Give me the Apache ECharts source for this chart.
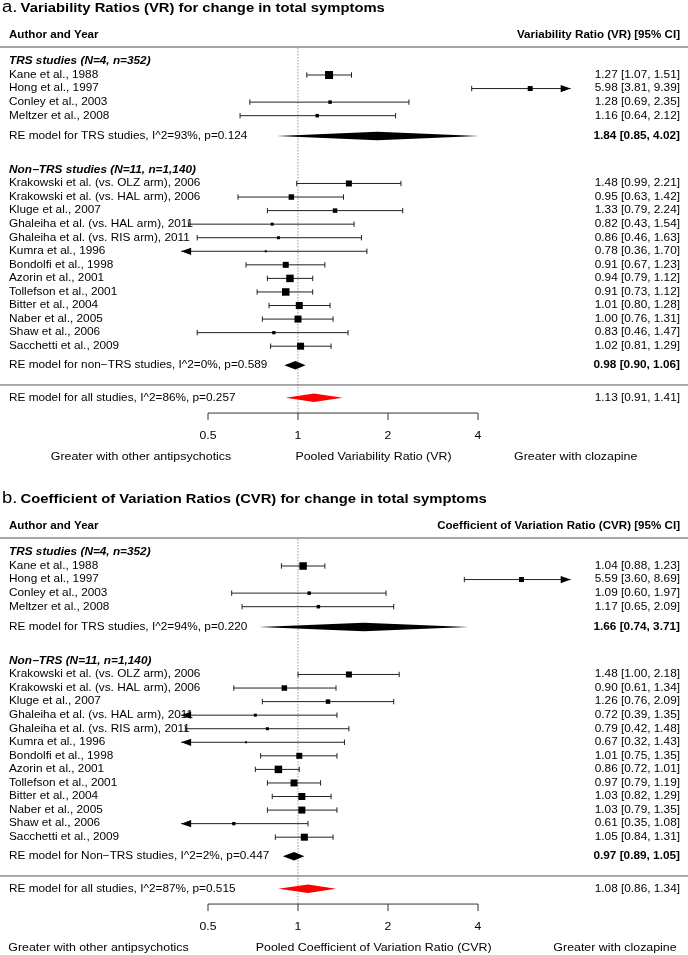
<!DOCTYPE html>
<html><head><meta charset="utf-8">
<script src="https://cdn.jsdelivr.net/npm/echarts@6/dist/echarts.min.js"></script>
<style>html,body{margin:0;padding:0;background:#fff}#c{width:688px;height:955px}</style>
</head><body><div id="c"></div>
<script>
// ---------------- DATA ----------------
const studyNames = [
  "Kane et al., 1988", "Hong et al., 1997", "Conley et al., 2003", "Meltzer et al., 2008",
  "Krakowski et al. (vs. OLZ arm), 2006", "Krakowski et al. (vs. HAL arm), 2006", "Kluge et al., 2007",
  "Ghaleiha et al. (vs. HAL arm), 2011", "Ghaleiha et al. (vs. RIS arm), 2011", "Kumra et al., 1996",
  "Bondolfi et al., 1998", "Azorin et al., 2001", "Tollefson et al., 2001", "Bitter et al., 2004",
  "Naber et al., 2005", "Shaw et al., 2006", "Sacchetti et al., 2009"
];
const studyRows = [0, 1, 2, 3, 8, 9, 10, 11, 12, 13, 14, 15, 16, 17, 18, 19, 20];

// Panel a: Variability Ratio (VR)
const vrEst   = [1.27, 5.98, 1.28, 1.16, 1.48, 0.95, 1.33, 0.82, 0.86, 0.78, 0.91, 0.94, 0.91, 1.01, 1.00, 0.83, 1.02];
const vrLower = [1.07, 3.81, 0.69, 0.64, 0.99, 0.63, 0.79, 0.43, 0.46, 0.36, 0.67, 0.79, 0.73, 0.80, 0.76, 0.46, 0.81];
const vrUpper = [1.51, 9.39, 2.35, 2.12, 2.21, 1.42, 2.24, 1.54, 1.63, 1.70, 1.23, 1.12, 1.12, 1.28, 1.31, 1.47, 1.29];
const vrWeight = [8, 5, 3.5, 3.5, 6, 5.5, 4.5, 3, 3, 2, 6, 7.5, 7.5, 7, 7, 3.3, 7];
const vrSummaryLabels = [
  "RE model for TRS studies, I^2=93%, p=0.124",
  "RE model for non\u2212TRS studies, I^2=0%, p=0.589",
  "RE model for all studies, I^2=86%, p=0.257"
];
const vrSummaryEst   = [1.84, 0.98, 1.13];
const vrSummaryLower = [0.85, 0.90, 0.91];
const vrSummaryUpper = [4.02, 1.06, 1.41];
const vrGroupLabels = ["TRS studies (N=4, n=352)", "Non\u2212TRS studies (N=11, n=1,140)"];

// Panel b: Coefficient of Variation Ratio (CVR)
const cvrEst   = [1.04, 5.59, 1.09, 1.17, 1.48, 0.90, 1.26, 0.72, 0.79, 0.67, 1.01, 0.86, 0.97, 1.03, 1.03, 0.61, 1.05];
const cvrLower = [0.88, 3.60, 0.60, 0.65, 1.00, 0.61, 0.76, 0.39, 0.42, 0.32, 0.75, 0.72, 0.79, 0.82, 0.79, 0.35, 0.84];
const cvrUpper = [1.23, 8.69, 1.97, 2.09, 2.18, 1.34, 2.09, 1.35, 1.48, 1.43, 1.35, 1.01, 1.19, 1.29, 1.35, 1.08, 1.31];
const cvrWeight = [7.5, 5, 3.5, 3.5, 6, 5.5, 4.5, 3, 3, 2, 6, 7.5, 7, 7, 7, 3.3, 7];
const cvrSummaryLabels = [
  "RE model for TRS studies, I^2=94%, p=0.220",
  "RE model for Non\u2212TRS studies, I^2=2%, p=0.447",
  "RE model for all studies, I^2=87%, p=0.515"
];
const cvrSummaryEst   = [1.66, 0.97, 1.08];
const cvrSummaryLower = [0.74, 0.89, 0.86];
const cvrSummaryUpper = [3.71, 1.05, 1.34];
const cvrGroupLabels = ["TRS studies (N=4, n=352)", "Non\u2212TRS (N=11, n=1,140)"];

const summaryRows = [4.5, 21.4, 23.8];
const groupRows = [-1, 7];
const tickValues = [0.5, 1, 2, 4];

const panelTitles = [
  ["a.", "Variability Ratios (VR) for change in total symptoms"],
  ["b.", "Coefficient of Variation Ratios (CVR) for change in total symptoms"]
];
const leftHeader = "Author and Year";
const rightHeaders = ["Variability Ratio (VR) [95% CI]", "Coefficient of Variation Ratio (CVR) [95% CI]"];
const footerTexts = [
  ["Greater with other antipsychotics", "Pooled Variability Ratio (VR)", "Greater with clozapine"],
  ["Greater with other antipsychotics", "Pooled Coefficient of Variation Ratio (CVR)", "Greater with clozapine"]
];

// ---------------- LAYOUT ----------------
const W = 688;
const ROW0_Y = 75, ROW_PX = 13.56, PANEL_H = [491, 464];
const X_ONE = 298, X_PER_DOUBLING = 90;
const X_MIN = Math.pow(2, -X_ONE / X_PER_DOUBLING);
const X_MAX = Math.pow(2, (W - X_ONE) / X_PER_DOUBLING);
const CLIP_LO = Math.exp(-0.9), CLIP_HI = Math.exp(2.1);
const LEFT_X = 9, RIGHT_X = 680;
const FOOTER_CX = [[141, 373.5, 575.7], [98.5, 373.7, 615]];
const ROW_TITLE = -4.94, ROW_HEADER = -2.95, ROW_HLINE = -2.06, ROW_SEP = 22.86,
      ROW_AXIS = 24.93, ROW_TICKLAB = 26.6, ROW_FOOT = 28.17;
const FONT = "'Liberation Sans', Arial, Helvetica, sans-serif";
const SY = 0.87;
const FS = 11.8;

function txt(x, y, text, o) {
  o = o || {};
  return {
    type: 'text', x: x, y: y, scaleY: SY, silent: true,
    style: {
      text: text, fill: o.fill || '#000', fontSize: o.size || FS, fontFamily: FONT,
      fontWeight: o.weight || 'normal', fontStyle: o.style || 'normal',
      align: o.align || 'left', verticalAlign: 'middle', rich: o.rich
    }
  };
}
function fmt(e, l, u) { return e.toFixed(2) + ' [' + l.toFixed(2) + ', ' + u.toFixed(2) + ']'; }

function studySeries(p, est, lo, up, wt) {
  return {
    type: 'custom', xAxisIndex: p, yAxisIndex: p, clip: false, silent: true, animation: false,
    data: est.map((e, i) => [e, lo[i], up[i], studyRows[i], wt[i], i]),
    encode: { x: 0, y: 3 },
    renderItem: function (params, api) {
      const e = api.value(0), lb = api.value(1), ub = api.value(2), row = api.value(3), w = api.value(4), idx = api.value(5);
      const y = api.coord([1, row])[1];
      const l = Math.max(lb, CLIP_LO), h = Math.min(ub, CLIP_HI);
      const xl = api.coord([l, row])[0], xh = api.coord([h, row])[0], xe = api.coord([e, row])[0];
      const ch = [];
      const st = { stroke: '#222', lineWidth: 1 };
      ch.push({ type: 'line', shape: { x1: xl, y1: y, x2: xh, y2: y }, style: st });
      if (lb >= CLIP_LO) ch.push({ type: 'line', shape: { x1: xl, y1: y - 2.7, x2: xl, y2: y + 2.7 }, style: st });
      else ch.push({ type: 'polygon', shape: { points: [[xl, y], [xl + 10, y - 3.6], [xl + 10, y + 3.6]] }, style: { fill: '#000' } });
      if (ub <= CLIP_HI) ch.push({ type: 'line', shape: { x1: xh, y1: y - 2.7, x2: xh, y2: y + 2.7 }, style: st });
      else ch.push({ type: 'polygon', shape: { points: [[xh, y], [xh - 10, y - 3.6], [xh - 10, y + 3.6]] }, style: { fill: '#000' } });
      ch.push({ type: 'rect', shape: { x: xe - w / 2, y: y - w / 2, width: w, height: w }, style: { fill: '#000' } });
      ch.push(txt(LEFT_X, y, studyNames[idx]));
      ch.push(txt(RIGHT_X, y, fmt(e, lb, ub), { align: 'right' }));
      return { type: 'group', children: ch };
    }
  };
}

function summarySeries(p, labels, est, lo, up) {
  return {
    type: 'custom', xAxisIndex: p, yAxisIndex: p, clip: false, silent: true, animation: false,
    data: est.map((e, i) => [e, lo[i], up[i], summaryRows[i], i]),
    encode: { x: 0, y: 3 },
    renderItem: function (params, api) {
      const e = api.value(0), lb = api.value(1), ub = api.value(2), row = api.value(3), idx = api.value(4);
      const y = api.coord([1, row])[1];
      const xl = api.coord([lb, row])[0], xh = api.coord([ub, row])[0], xe = api.coord([e, row])[0];
      const hh = 4.2;
      const color = idx === 2 ? '#ff0000' : '#000';
      return { type: 'group', children: [
        { type: 'polygon', shape: { points: [[xl, y], [xe, y - hh], [xh, y], [xe, y + hh]] }, style: { fill: color } },
        txt(LEFT_X, y, labels[idx]),
        txt(RIGHT_X, y, fmt(e, lb, ub), { align: 'right', weight: idx === 2 ? 'normal' : 'bold' })
      ] };
    }
  };
}

function decorSeries(p, groupLabels) {
  return {
    type: 'custom', xAxisIndex: p, yAxisIndex: p, clip: false, silent: true, animation: false,
    data: [[1, 0]], encode: { x: 0, y: 1 },
    renderItem: function (params, api) {
      const Y = r => api.coord([1, r])[1];
      const X = v => api.coord([v, 0])[0];
      const ch = [];
      ch.push(txt(2, Y(ROW_TITLE), '{l|' + panelTitles[p][0] + '} {t|' + panelTitles[p][1] + '}', {
        rich: {
          l: { fontSize: 18.4, fontFamily: FONT, fontWeight: 'normal', fill: '#000' },
          t: { fontSize: 14.8, fontFamily: FONT, fontWeight: 'bold', fill: '#000' }
        }
      }));
      ch.push(txt(LEFT_X, Y(ROW_HEADER), leftHeader, { weight: 'bold', size: 11.6 }));
      ch.push(txt(RIGHT_X, Y(ROW_HEADER), rightHeaders[p], { weight: 'bold', size: 11.6, align: 'right' }));
      ch.push({ type: 'line', shape: { x1: 0, y1: Y(ROW_HLINE), x2: W, y2: Y(ROW_HLINE) }, style: { stroke: '#888', lineWidth: 1.6 } });
      groupLabels.forEach((g, i) => ch.push(txt(LEFT_X, Y(groupRows[i]), g, { weight: 'bold', style: 'italic' })));
      ch.push({ type: 'line', shape: { x1: X(1), y1: Y(ROW_HLINE) + 1, x2: X(1), y2: Y(ROW_AXIS) }, style: { stroke: '#999', lineWidth: 1, lineDash: [1.5, 1.5] } });
      ch.push({ type: 'line', shape: { x1: 0, y1: Y(ROW_SEP), x2: W, y2: Y(ROW_SEP) }, style: { stroke: '#555', lineWidth: 1 } });
      const ya = Y(ROW_AXIS);
      const tx = tickValues.map(X);
      ch.push({ type: 'line', shape: { x1: tx[0], y1: ya, x2: tx[tx.length - 1], y2: ya }, style: { stroke: '#333', lineWidth: 1 } });
      tickValues.forEach((v, i) => {
        ch.push({ type: 'line', shape: { x1: tx[i], y1: ya, x2: tx[i], y2: ya + 7 }, style: { stroke: '#333', lineWidth: 1 } });
        ch.push(txt(tx[i], Y(ROW_TICKLAB), String(v), { align: 'center', size: 12.2 }));
      });
      footerTexts[p].forEach((f, i) => ch.push(txt(FOOTER_CX[p][i], Y(ROW_FOOT), f, { align: 'center', size: 12.4 })));
      return { type: 'group', children: ch };
    }
  };
}

const chart = echarts.init(document.getElementById('c'), null, { renderer: 'canvas' });
chart.setOption({
  animation: false,
  backgroundColor: '#fff',
  grid: [
    { left: 0, top: 0, width: W, height: PANEL_H[0] },
    { left: 0, top: PANEL_H[0], width: W, height: PANEL_H[1] }
  ],
  xAxis: [0, 1].map(i => ({ type: 'log', logBase: 2, gridIndex: i, min: X_MIN, max: X_MAX, show: false })),
  yAxis: [0, 1].map(i => ({ type: 'value', gridIndex: i, inverse: true, min: -ROW0_Y / ROW_PX, max: (PANEL_H[i] - ROW0_Y) / ROW_PX, show: false })),
  series: [
    decorSeries(0, vrGroupLabels),
    studySeries(0, vrEst, vrLower, vrUpper, vrWeight),
    summarySeries(0, vrSummaryLabels, vrSummaryEst, vrSummaryLower, vrSummaryUpper),
    decorSeries(1, cvrGroupLabels),
    studySeries(1, cvrEst, cvrLower, cvrUpper, cvrWeight),
    summarySeries(1, cvrSummaryLabels, cvrSummaryEst, cvrSummaryLower, cvrSummaryUpper)
  ]
});
</script>
</body></html>
